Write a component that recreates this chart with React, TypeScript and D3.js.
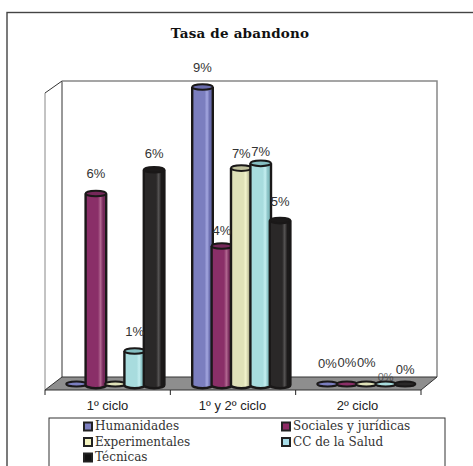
import React from "react";
import * as d3 from "d3";

const categories = ["1º ciclo", "1º y 2º ciclo", "2º ciclo"];
const seriesNames = ["Humanidades", "Sociales y jurídicas", "Experimentales", "CC de la Salud", "Técnicas"];
const humanidades = [0, 9.4, 0];
const sociales = [6.05, 4.4, 0];
const experimentales = [0, 6.85, 0];
const salud = [1.1, 7.0, 0];
const tecnicas = [6.8, 5.2, 0];
const seriesValues = [humanidades, sociales, experimentales, salud, tecnicas];
const labels = [
  ["", "9%", "0%"],
  ["6%", "4%", "0%"],
  ["", "7%", "0%"],
  ["1%", "7%", "0%"],
  ["6%", "5%", "0%"],
];
const fills = [
  ["#6a6dae", "#a4a7e0", "#7b7ebf"],
  ["#75285a", "#b0668f", "#8a2f68"],
  ["#bfc09c", "#f2f3cc", "#dfe1b8"],
  ["#86bfc2", "#c4eef0", "#a8dcde"],
  ["#1c1a1a", "#555353", "#2a2828"],
];
const legendSwatch = ["#7c7fc0", "#8d2a64", "#f4f4c0", "#a8dde8", "#111"];

export default function App() {
  const y = d3.scaleLinear().domain([0, 9.4]).range([386, 87]);
  const x = d3.scaleBand().domain(categories).range([47, 422]);
  const rx = 10.3;
  const starts = [65.5, 191.5, 316.5];
  const labelDy = [
    [0, -15, -18],
    [-16, -11, -19],
    [0, -10, -19],
    [-15, -7, -5],
    [-12, -15, -12],
  ];
  return (
    <svg width={473} height={466} style={{ position: "absolute", left: 0, top: 0, background: "#fff" }}>
      <defs>
        {fills.map((f, i) => (
          <linearGradient key={i} id={`g${i}`} x1="0" x2="1" y1="0" y2="0">
            <stop offset="0" stopColor={f[2]} />
            <stop offset="0.6" stopColor={f[2]} />
            <stop offset="0.72" stopColor={f[1]} />
            <stop offset="0.85" stopColor={f[0]} />
            <stop offset="1" stopColor={f[0]} />
          </linearGradient>
        ))}
      </defs>
      <rect x={7} y={12.5} width={480} height={480} fill="none" stroke="#444" strokeWidth={1.4} />
      <text x={240} y={38} textAnchor="middle" fontFamily="DejaVu Serif" fontWeight="bold" fontSize={13.5} letterSpacing={0.2} fill="#111">Tasa de abandono</text>

      <path d="M45,93 L62,81 L62,377" fill="none" stroke="#333" strokeWidth={1} />
      <path d="M62,81 H437 V377" fill="none" stroke="#888" strokeWidth={1.5} />
      <path d="M45,93 V390" fill="none" stroke="#888" strokeWidth={1} />
      <path d="M45,390 L62,377 H437 L421,390 Z" fill="#8e8e8e" stroke="#333" strokeWidth={1} />

      {d3.range(4).map((i) => {
        const tx = 45 + (i * 376) / 3;
        return <line key={i} x1={tx} x2={tx} y1={390} y2={395} stroke="#222" />;
      })}
      {categories.map((c) => (
        <text key={c} x={(x(c) as number) + x.bandwidth() / 2 - 2} y={410} textAnchor="middle" fontFamily="Liberation Sans" fontSize={13} fill="#222">{c}</text>
      ))}

      {seriesValues.map((vals, s) =>
        vals.map((v, c) => {
          const cx = starts[c] + 11 + s * 19.4;
          const top = y(v);
          const base = y(0);
          const d = `M${cx - rx},${top} V${base - 1} A${rx},3.2 0 0 0 ${cx + rx},${base - 1} V${top}`;
          return v > 0 ? (
            <g key={`${s}-${c}`}>
              <path d={d} fill={`url(#g${s})`} stroke="#1a1818" strokeWidth={2.4} />
              <ellipse cx={cx} cy={top} rx={rx} ry={2.8} fill={fills[s][0]} stroke="#1a1818" strokeWidth={2} />
            </g>
          ) : (
            <ellipse key={`${s}-${c}`} cx={cx} cy={384} rx={rx} ry={2.5} fill={fills[s][2]} stroke="#1a1818" strokeWidth={2} />
          );
        })
      )}
      {seriesValues.map((vals, s) =>
        vals.map((v, c) => {
          const lab = labels[s][c];
          if (!lab) return null;
          const cx = starts[c] + 11 + s * 19.4;
          const small = c === 2 && s === 3;
          return (
            <text key={`${s}-${c}`} x={cx} y={y(v) + labelDy[s][c]} textAnchor="middle" fontFamily="Liberation Sans" fontSize={small ? 11 : 13} fill="#333" opacity={small ? 0.7 : 1}>{lab}</text>
          );
        })
      )}

      <rect x={49} y={418} width={396} height={70} fill="#fff" stroke="#333" strokeWidth={1} />
      {seriesNames.map((n, i) => {
        const col = i % 2;
        const row = Math.floor(i / 2);
        const sx = col === 0 ? 84 : 282;
        const sy = 426 + row * 15.5;
        return (
          <g key={n}>
            <rect x={sx} y={sy - 3.5} width={8} height={8} fill={legendSwatch[i]} stroke="#222" strokeWidth={2} />
            <text x={sx + 11} y={sy + 4} fontFamily="DejaVu Serif" fontSize={12} fill="#333">{n}</text>
          </g>
        );
      })}
    </svg>
  );
}
